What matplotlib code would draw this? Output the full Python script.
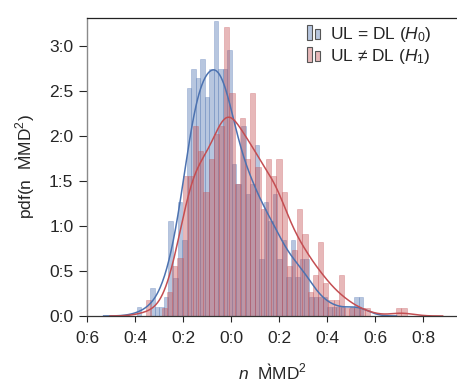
import numpy as np
import matplotlib
matplotlib.use("Agg")
import matplotlib.pyplot as plt
from matplotlib.patches import Rectangle
from matplotlib.legend_handler import HandlerBase

# ---------------- data ----------------
blue_start = -0.394
blue_width = 0.01888
blue_density = [0.10, 0.0, 0.0, 0.31, 0.10, 0.10, 0.21, 1.06, 0.42, 1.27,
                0.84, 2.53, 2.74, 2.64, 2.85, 2.43, 2.74, 3.28, 2.74, 2.74,
                2.96, 1.69, 1.47, 2.11, 1.36, 1.47, 1.90, 0.63, 1.27, 1.06,
                1.36, 0.63, 0.84, 0.43, 0.84, 0.43, 0.63, 0.63, 0.21, 0.21,
                0.21, 0.21, 0.10, 0.10, 0.10, 0.10, 0.0, 0.10, 0.21, 0.21]

red_start = -0.3554
red_width = 0.02171
red_density = [0.18, 0.0, 0.0, 0.09, 0.27, 0.55, 0.64, 1.56, 1.56, 2.11,
               1.83, 1.38, 1.74, 2.02, 2.11, 3.21, 2.48, 1.47, 2.20, 1.74,
               2.48, 1.66, 1.19, 1.74, 1.56, 1.74, 1.38, 0.55, 0.73, 1.19,
               0.91, 0.27, 0.46, 0.82, 0.37, 0.18, 0.18, 0.46, 0.09, 0.09,
               0.09, 0.09, 0.09, 0.0, 0.0, 0.0, 0.0, 0.0, 0.09, 0.09]

blue_bw = 0.046
red_bw = 0.050

xtick_values = [-0.6, -0.4, -0.2, 0.0, 0.2, 0.4, 0.6, 0.8]
xtick_labels = ["0:6", "0:4", "0:2", "0:0", "0:2", "0:4", "0:6", "0:8"]
ytick_values = [0.0, 0.5, 1.0, 1.5, 2.0, 2.5, 3.0]
ytick_labels = ["0:0", "0:5", "1:0", "1:5", "2:0", "2:5", "3:0"]

label_h0 = r"UL = DL ($H_0$)"
label_h1 = "UL \u2260 DL ($H_1$)"
xlabel = "$n$  M\u0300MD$^2$"
ylabel = "pdf(n  M\u0300MD$^2$)"

BLUE = "#4C72B0"
RED = "#C44E52"
TEXT = "#262626"

plt.rcParams["font.family"] = ["Liberation Sans", "DejaVu Sans"]
plt.rcParams["mathtext.fontset"] = "custom"
plt.rcParams["mathtext.rm"] = "Liberation Sans"
plt.rcParams["mathtext.it"] = "Liberation Sans:italic"
plt.rcParams["mathtext.bf"] = "Liberation Sans:bold"
plt.rcParams["text.color"] = TEXT
plt.rcParams["axes.labelcolor"] = TEXT


def weighted_kde(start, width, dens, bw, grid):
    dens = np.asarray(dens, dtype=float)
    centers = start + width * (np.arange(len(dens)) + 0.5)
    w = dens * width
    z = (grid[:, None] - centers[None, :]) / bw
    return (w[None, :] * np.exp(-0.5 * z ** 2)).sum(axis=1) / (bw * np.sqrt(2 * np.pi))


class TwoBoxHandler(HandlerBase):
    def create_artists(self, legend, orig_handle, xdescent, ydescent,
                       width, height, fontsize, trans):
        fc = orig_handle.get_facecolor()
        x0 = -xdescent
        y0 = -ydescent
        r1 = Rectangle((x0, y0 - 0.1 * height), 0.28 * width, 1.25 * height,
                       facecolor=fc, edgecolor="#555555", linewidth=0.8,
                       transform=trans)
        r2 = Rectangle((x0 + 0.45 * width, y0), 0.28 * width, 0.8 * height,
                       facecolor=fc, edgecolor="#555555", linewidth=0.8,
                       transform=trans)
        return [r1, r2]


fig = plt.figure(figsize=(4.57, 3.83), dpi=100)
ax = fig.add_axes([87.3 / 457, 67 / 383, 1 - 87.3 / 457, 298 / 383])

# histograms
bl = blue_start + blue_width * np.arange(len(blue_density))
rl = red_start + red_width * np.arange(len(red_density))
ax.bar(bl, blue_density, width=blue_width, align="edge", color=BLUE,
       alpha=0.4, edgecolor=BLUE, linewidth=0.5)
ax.bar(rl, red_density, width=red_width, align="edge", color=RED,
       alpha=0.4, edgecolor=RED, linewidth=0.5)

# kde lines
bmax = blue_start + blue_width * len(blue_density)
rmax = red_start + red_width * len(red_density)
gb = np.linspace(blue_start - 3 * blue_bw, bmax + 3 * blue_bw, 400)
gr = np.linspace(red_start - 3 * red_bw, rmax + 3 * red_bw, 400)
ax.plot(gb, weighted_kde(blue_start, blue_width, blue_density, blue_bw, gb),
        color=BLUE, lw=1.1)
ax.plot(gr, weighted_kde(red_start, red_width, red_density, red_bw, gr),
        color=RED, lw=1.1)

ax.set_xlim(-0.6, 0.94)
ax.set_ylim(0, 3.311)
ax.set_xticks(xtick_values)
ax.set_xticklabels(xtick_labels)
ax.set_yticks(ytick_values)
ax.set_yticklabels(ytick_labels)
ax.tick_params(axis="both", labelsize=12.5, colors=TEXT, width=0.8)
ax.tick_params(axis="y", length=6, pad=4)
ax.tick_params(axis="x", length=4.5, pad=6)

ax.spines["right"].set_visible(False)
ax.spines["left"].set_color("#8a8a8a")
ax.spines["left"].set_linewidth(1.0)
ax.spines["top"].set_color("#222222")
ax.spines["top"].set_linewidth(0.9)
ax.spines["bottom"].set_color("#333333")
ax.spines["bottom"].set_linewidth(0.9)

ax.set_xlabel(xlabel, fontsize=12.5, labelpad=12)
ax.set_ylabel(ylabel, fontsize=12.5, labelpad=9.5)

hb = Rectangle((0, 0), 1, 1)
hr = Rectangle((0, 0), 1, 1)
hb.set_facecolor((0x4C / 255, 0x72 / 255, 0xB0 / 255, 0.4))
hr.set_facecolor((0xC4 / 255, 0x4E / 255, 0x52 / 255, 0.4))
leg = ax.legend([hb, hr], [label_h0, label_h1], loc="upper left",
                bbox_to_anchor=((307 - 87.3) / 369.7, 0.978), frameon=False,
                fontsize=12.5, handlelength=1.05, handletextpad=0.25,
                labelspacing=0.2, borderpad=0, borderaxespad=0,
                handler_map={Rectangle: TwoBoxHandler()})

fig.savefig("out.png", dpi=100)
